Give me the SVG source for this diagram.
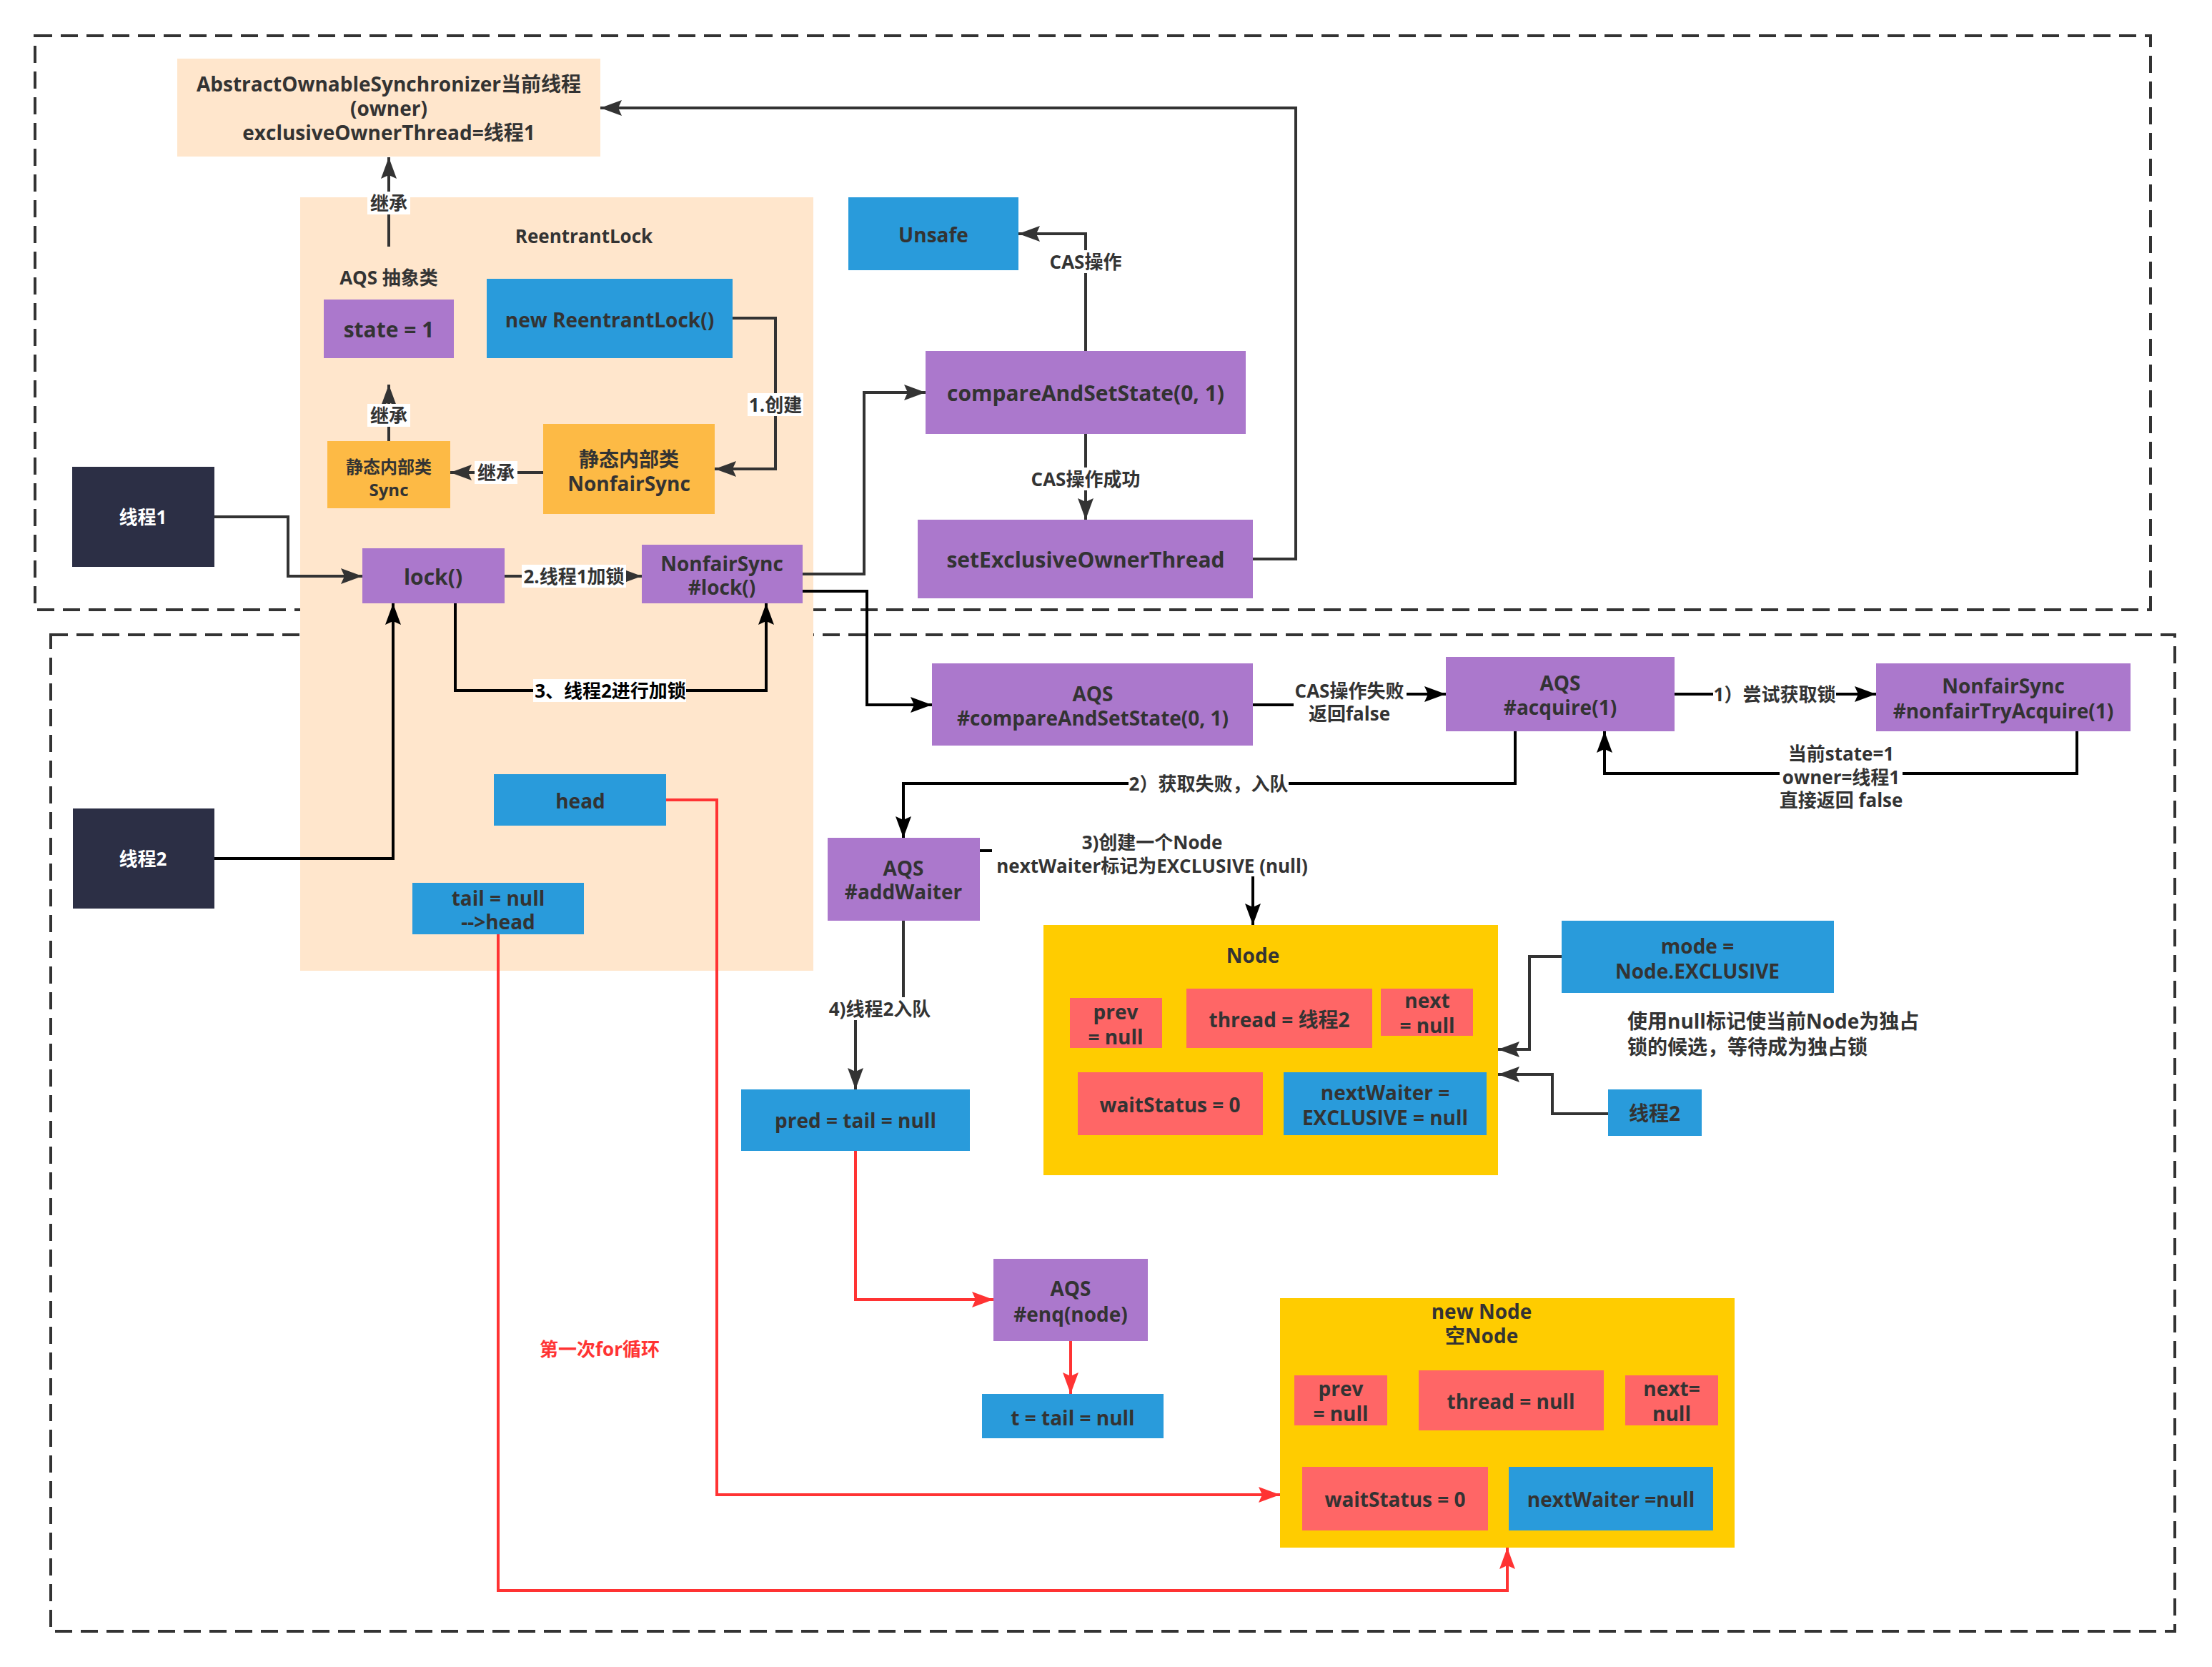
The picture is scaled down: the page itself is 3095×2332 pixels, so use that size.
<svg xmlns="http://www.w3.org/2000/svg" width="3095" height="2332" viewBox="0 0 3095 2332">
<style>
text{font-family:'Open Sans','Noto Sans CJK SC',sans-serif;font-weight:bold;fill:#333;text-anchor:middle;dominant-baseline:central}
.n28{font-size:28px}.n30{font-size:30px}.n26{font-size:26px}.n24{font-size:24px}
.w{fill:#fff}
.peach{fill:#FFE6CC}.purple{fill:#AB78CC}.blue{fill:#299BDB}.navy{fill:#2C2F45}.orange{fill:#FDBA45}.yellow{fill:#FFCC00}.red{fill:#FF6666}
.dash{fill:none;stroke:#333;stroke-width:4;stroke-dasharray:24 12}
.c{fill:none;stroke:#333;stroke-width:4}
.k{fill:none;stroke:#000;stroke-width:4}
.r{fill:none;stroke:#FF3333;stroke-width:4}
.lb{fill:#fff}
</style>
<defs>
<marker id="a" markerUnits="userSpaceOnUse" markerWidth="32" markerHeight="22" refX="30" refY="11" orient="auto"><path d="M0,0 L30,11 L0,22 L5,11 z" fill="#333"/></marker>
<marker id="ak" markerUnits="userSpaceOnUse" markerWidth="32" markerHeight="22" refX="30" refY="11" orient="auto"><path d="M0,0 L30,11 L0,22 L5,11 z" fill="#000"/></marker>
<marker id="ar" markerUnits="userSpaceOnUse" markerWidth="32" markerHeight="22" refX="30" refY="11" orient="auto"><path d="M0,0 L30,11 L0,22 L5,11 z" fill="#FF3333"/></marker>
</defs>
<rect width="3095" height="2332" fill="#fff"/>
<g id="frames">
<rect class="dash" x="49" y="50" width="2960" height="803"/>
<rect class="dash" x="71" y="888" width="2972" height="1394"/>
</g>
<g id="reentrantlock">
<rect class="peach" x="420" y="276" width="718" height="1082"/>
<text class="n26" x="817" y="330">ReentrantLock</text>
<text class="n26" x="544" y="388">AQS 抽象类</text>
</g>
<g id="aos"><rect class="peach" x="248" y="82" width="592" height="137"/>
<text class="n28" x="544" y="117">AbstractOwnableSynchronizer当前线程</text>
<text class="n28" x="544" y="151">(owner)</text>
<text class="n28" x="544" y="185">exclusiveOwnerThread=线程1</text></g>
<g id="state"><rect class="purple" x="453" y="419" width="182" height="82"/><text class="n30" x="544" y="460">state = 1</text></g>
<g id="newRL"><rect class="blue" x="681" y="390" width="344" height="111"/><text class="n28" x="853" y="447">new ReentrantLock()</text></g>
<g id="sync"><rect class="orange" x="458" y="617" width="172" height="94"/><text class="n24" x="544" y="652">静态内部类</text><text class="n24" x="544" y="684">Sync</text></g>
<g id="nfsStatic"><rect class="orange" x="760" y="593" width="240" height="126"/><text class="n28" x="880" y="642">静态内部类</text><text class="n28" x="880" y="676">NonfairSync</text></g>
<g id="t1"><rect class="navy" x="101" y="653" width="199" height="140"/><text class="n26" x="200" y="723" style="fill:#fff">线程1</text></g>
<g id="lock"><rect class="purple" x="507" y="767" width="199" height="77"/><text class="n30" x="606" y="806">lock()</text></g>
<g id="nfsLock"><rect class="purple" x="898" y="762" width="225" height="82"/><text class="n28" x="1010" y="788">NonfairSync</text><text class="n28" x="1010" y="821">#lock()</text></g>
<g id="unsafe"><rect class="blue" x="1187" y="276" width="238" height="102"/><text class="n28" x="1306" y="328">Unsafe</text></g>
<g id="cas"><rect class="purple" x="1295" y="491" width="448" height="116"/><text class="n30" x="1519" y="549">compareAndSetState(0, 1)</text></g>
<g id="setEx"><rect class="purple" x="1284" y="727" width="469" height="110"/><text class="n30" x="1519" y="782">setExclusiveOwnerThread</text></g>
<g id="t2"><rect class="navy" x="102" y="1131" width="198" height="140"/><text class="n26" x="200" y="1201" style="fill:#fff">线程2</text></g>
<g id="head"><rect class="blue" x="691" y="1083" width="241" height="72"/><text class="n28" x="812" y="1120">head</text></g>
<g id="tail"><rect class="blue" x="577" y="1235" width="240" height="72"/><text class="n28" x="697" y="1256">tail = null</text><text class="n28" x="697" y="1289">--&gt;head</text></g>
<g id="aqsCas"><rect class="purple" x="1304" y="928" width="449" height="115"/><text class="n28" x="1529" y="970">AQS</text><text class="n28" x="1529" y="1004">#compareAndSetState(0, 1)</text></g>
<g id="acquire"><rect class="purple" x="2023" y="919" width="320" height="104"/><text class="n28" x="2183" y="955">AQS</text><text class="n28" x="2183" y="989">#acquire(1)</text></g>
<g id="tryAcq"><rect class="purple" x="2625" y="928" width="356" height="95"/><text class="n28" x="2803" y="959">NonfairSync</text><text class="n28" x="2803" y="994">#nonfairTryAcquire(1)</text></g>
<g id="addWaiter"><rect class="purple" x="1158" y="1172" width="213" height="116"/><text class="n28" x="1264" y="1214">AQS</text><text class="n28" x="1264" y="1247">#addWaiter</text></g>
<g id="node"><rect class="yellow" x="1460" y="1294" width="636" height="350"/><text class="n28" x="1753" y="1336">Node</text>
<rect class="red" x="1497" y="1396" width="129" height="70"/><text class="n28" x="1561" y="1415">prev</text><text class="n28" x="1561" y="1450">= null</text>
<rect class="red" x="1660" y="1383" width="260" height="83"/><text class="n28" x="1790" y="1426">thread = 线程2</text>
<rect class="red" x="1932" y="1383" width="129" height="66"/><text class="n28" x="1997" y="1399">next</text><text class="n28" x="1997" y="1434">= null</text>
<rect class="red" x="1508" y="1500" width="259" height="88"/><text class="n28" x="1637" y="1545">waitStatus = 0</text>
<rect class="blue" x="1796" y="1500" width="284" height="88"/><text class="n28" x="1938" y="1528">nextWaiter =</text><text class="n28" x="1938" y="1563">EXCLUSIVE = null</text></g>
<g id="mode"><rect class="blue" x="2185" y="1288" width="381" height="101"/><text class="n28" x="2375" y="1323">mode =</text><text class="n28" x="2375" y="1358">Node.EXCLUSIVE</text></g>
<g id="comment"><text class="n28" x="2277" y="1428" style="text-anchor:start">使用null标记使当前Node为独占</text><text class="n28" x="2277" y="1464" style="text-anchor:start">锁的候选，等待成为独占锁</text></g>
<g id="t2small"><rect class="blue" x="2250" y="1524" width="131" height="65"/><text class="n28" x="2315" y="1557">线程2</text></g>
<g id="pred"><rect class="blue" x="1037" y="1524" width="320" height="86"/><text class="n28" x="1197" y="1567">pred = tail = null</text></g>
<g id="enq"><rect class="purple" x="1390" y="1761" width="216" height="115"/><text class="n28" x="1498" y="1802">AQS</text><text class="n28" x="1498" y="1838">#enq(node)</text></g>
<g id="tbox"><rect class="blue" x="1374" y="1950" width="254" height="62"/><text class="n28" x="1501" y="1983">t = tail = null</text></g>
<g id="newNode"><rect class="yellow" x="1791" y="1816" width="636" height="349"/><text class="n28" x="2073" y="1834">new Node</text><text class="n28" x="2073" y="1868">空Node</text>
<rect class="red" x="1811" y="1924" width="130" height="70"/><text class="n28" x="1876" y="1942">prev</text><text class="n28" x="1876" y="1977">= null</text>
<rect class="red" x="1985" y="1917" width="259" height="84"/><text class="n28" x="2114" y="1960">thread = null</text>
<rect class="red" x="2274" y="1924" width="130" height="70"/><text class="n28" x="2339" y="1942">next=</text><text class="n28" x="2339" y="1977">null</text>
<rect class="red" x="1822" y="2052" width="260" height="89"/><text class="n28" x="1952" y="2097">waitStatus = 0</text>
<rect class="blue" x="2111" y="2052" width="286" height="89"/><text class="n28" x="2254" y="2097">nextWaiter =null</text></g>
<g id="loopNote"><text class="n26" x="839" y="1887" style="fill:#FF3333">第一次for循环</text></g>
<g id="connectors">
<path class="c" d="M544,345 V220" marker-end="url(#a)"/>
<rect class="lb" x="514" y="268" width="60" height="32"/><text class="n26" x="544" y="284">继承</text>
<path class="c" d="M544,617 V538" marker-end="url(#a)"/>
<rect class="lb" x="514" y="565" width="60" height="32"/><text class="n26" x="544" y="581">继承</text>
<path class="c" d="M760,661 H630" marker-end="url(#a)"/>
<rect class="lb" x="664" y="645" width="60" height="32"/><text class="n26" x="694" y="661">继承</text>
<path class="c" d="M1025,445 H1085 V656 H1000" marker-end="url(#a)"/>
<rect class="lb" x="1046" y="550" width="78" height="32"/><text class="n26" x="1085" y="566">1.创建</text>
<path class="c" d="M300,723 H403 V806 H507" marker-end="url(#a)"/>
<path class="c" d="M706,806 H898" marker-end="url(#a)"/>
<rect class="lb" x="730" y="790" width="146" height="32"/><text class="n26" x="803" y="806">2.线程1加锁</text>
<path class="c" d="M1123,803 H1209 V549 H1295" marker-end="url(#a)"/>
<path class="c" d="M1519,491 V327 H1425" marker-end="url(#a)"/>
<rect class="lb" x="1467" y="350" width="104" height="32"/><text class="n26" x="1519" y="366">CAS操作</text>
<path class="c" d="M1519,607 V727" marker-end="url(#a)"/>
<rect class="lb" x="1442" y="654" width="154" height="32"/><text class="n26" x="1519" y="670">CAS操作成功</text>
<path class="c" d="M1753,782 H1813 V151 H840" marker-end="url(#a)"/>
<path class="k" d="M1123,827 H1213 V986 H1304" marker-end="url(#ak)"/>
<path class="k" d="M1753,986 H1888 V971 H2023" marker-end="url(#ak)"/>
<rect class="lb" x="1810" y="948" width="158" height="68"/><text class="n26" x="1888" y="966">CAS操作失败</text><text class="n26" x="1888" y="998">返回false</text>
<path class="k" d="M2343,971 H2625" marker-end="url(#ak)"/>
<rect class="lb" x="2397" y="955" width="172" height="32"/><text class="n26" x="2483" y="971">1）尝试获取锁</text>
<path class="k" d="M2906,1023 V1082 H2245 V1023" marker-end="url(#ak)"/>
<rect class="lb" x="2490" y="1038" width="172" height="98"/><text class="n26" x="2576" y="1054">当前state=1</text><text class="n26" x="2576" y="1087">owner=线程1</text><text class="n26" x="2576" y="1119">直接返回 false</text>
<path class="k" d="M2120,1023 V1096 H1264 V1172" marker-end="url(#ak)"/>
<rect class="lb" x="1579" y="1080" width="224" height="32"/><text class="n26" x="1691" y="1096">2）获取失败，入队</text>
<path class="k" d="M1371,1190 H1753 V1294" marker-end="url(#ak)"/>
<rect class="lb" x="1388" y="1160" width="448" height="66"/><text class="n26" x="1612" y="1178">3)创建一个Node</text><text class="n26" x="1612" y="1211">nextWaiter标记为EXCLUSIVE (null)</text>
<path class="c" d="M2185,1338 H2140 V1468 H2096" marker-end="url(#a)"/>
<path class="c" d="M2250,1558 H2172 V1503 H2096" marker-end="url(#a)"/>
<path class="c" d="M1264,1288 V1411 H1197 V1524" marker-end="url(#a)"/>
<rect class="lb" x="1156" y="1395" width="150" height="32"/><text class="n26" x="1231" y="1411">4)线程2入队</text>
<path class="k" d="M300,1201 H550 V844" marker-end="url(#ak)"/>
<path class="k" d="M637,844 V966 H1072 V844" marker-end="url(#ak)"/>
<rect class="lb" x="746" y="950" width="214" height="32"/><text class="n26" x="854" y="966" style="fill:#000">3、线程2进行加锁</text>
<path class="r" d="M1197,1610 V1818 H1390" marker-end="url(#ar)"/>
<path class="r" d="M1498,1876 V1950" marker-end="url(#ar)"/>
<path class="r" d="M932,1119 H1003 V2091 H1791" marker-end="url(#ar)"/>
<path class="r" d="M697,1307 V2225 H2109 V2165" marker-end="url(#ar)"/>
</g>
</svg>
